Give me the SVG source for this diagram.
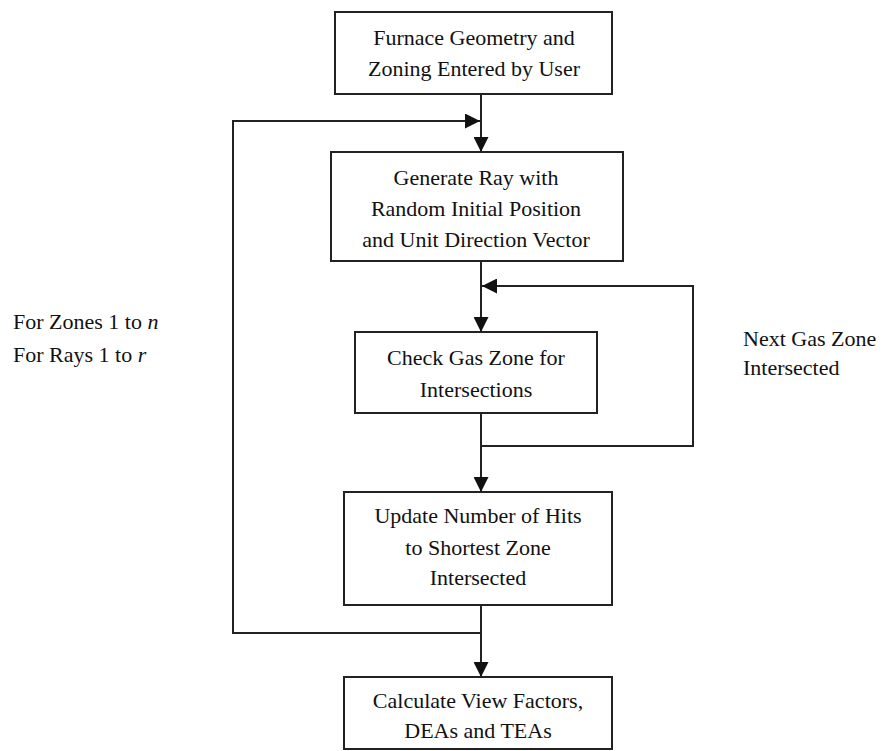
<svg xmlns="http://www.w3.org/2000/svg" width="884" height="751" viewBox="0 0 884 751">
<style>
.box{fill:#fff;stroke:#222;stroke-width:2}
.t{font-family:"Liberation Serif","Times New Roman",serif;font-size:22px;fill:#111;text-anchor:middle}
.l{font-family:"Liberation Serif","Times New Roman",serif;font-size:22px;fill:#111}
.c{fill:none;stroke:#222;stroke-width:2}
</style>
<defs>
<marker id="ah" markerWidth="15" markerHeight="15" viewBox="0 0 15 15" refX="15" refY="7.5" orient="auto" markerUnits="userSpaceOnUse">
<path d="M0,0 L15,7.5 L0,15 Z" fill="#111"/>
</marker>
</defs>
<rect width="884" height="751" fill="#fff"/>
<g id="connectors">
<path class="c" d="M481,94 V152" marker-end="url(#ah)"/>
<path class="c" d="M481,633 H233 V121 H480" marker-end="url(#ah)"/>
<path class="c" d="M481,261 V332" marker-end="url(#ah)"/>
<path class="c" d="M481,446 H693 V286 H482" marker-end="url(#ah)"/>
<path class="c" d="M481,413 V492" marker-end="url(#ah)"/>
<path class="c" d="M481,605 V677" marker-end="url(#ah)"/>
</g>
<g id="n1">
<rect class="box" x="335" y="12" width="277" height="82"/>
<text class="t" x="474" y="45">Furnace Geometry and</text>
<text class="t" x="474" y="76">Zoning Entered by User</text>
</g>
<g id="n2">
<rect class="box" x="331" y="152" width="292" height="109"/>
<text class="t" x="476" y="185">Generate Ray with</text>
<text class="t" x="476" y="216">Random Initial Position</text>
<text class="t" x="476" y="247">and Unit Direction Vector</text>
</g>
<g id="n3">
<rect class="box" x="355" y="332" width="242" height="81"/>
<text class="t" x="476" y="365">Check Gas Zone for</text>
<text class="t" x="476" y="397">Intersections</text>
</g>
<g id="n4">
<rect class="box" x="344" y="492" width="268" height="113"/>
<text class="t" x="478" y="523">Update Number of Hits</text>
<text class="t" x="478" y="555">to Shortest Zone</text>
<text class="t" x="478" y="585">Intersected</text>
</g>
<g id="n5">
<rect class="box" x="344" y="677" width="268" height="72"/>
<text class="t" x="478" y="708">Calculate View Factors,</text>
<text class="t" x="478" y="738">DEAs and TEAs</text>
</g>
<g id="label-loops">
<text class="l" x="13" y="329">For Zones 1 to <tspan font-style="italic">n</tspan></text>
<text class="l" x="13" y="362">For Rays 1 to <tspan font-style="italic">r</tspan></text>
</g>
<g id="label-next">
<text class="l" x="743" y="346">Next Gas Zone</text>
<text class="l" x="743" y="375">Intersected</text>
</g>
</svg>
